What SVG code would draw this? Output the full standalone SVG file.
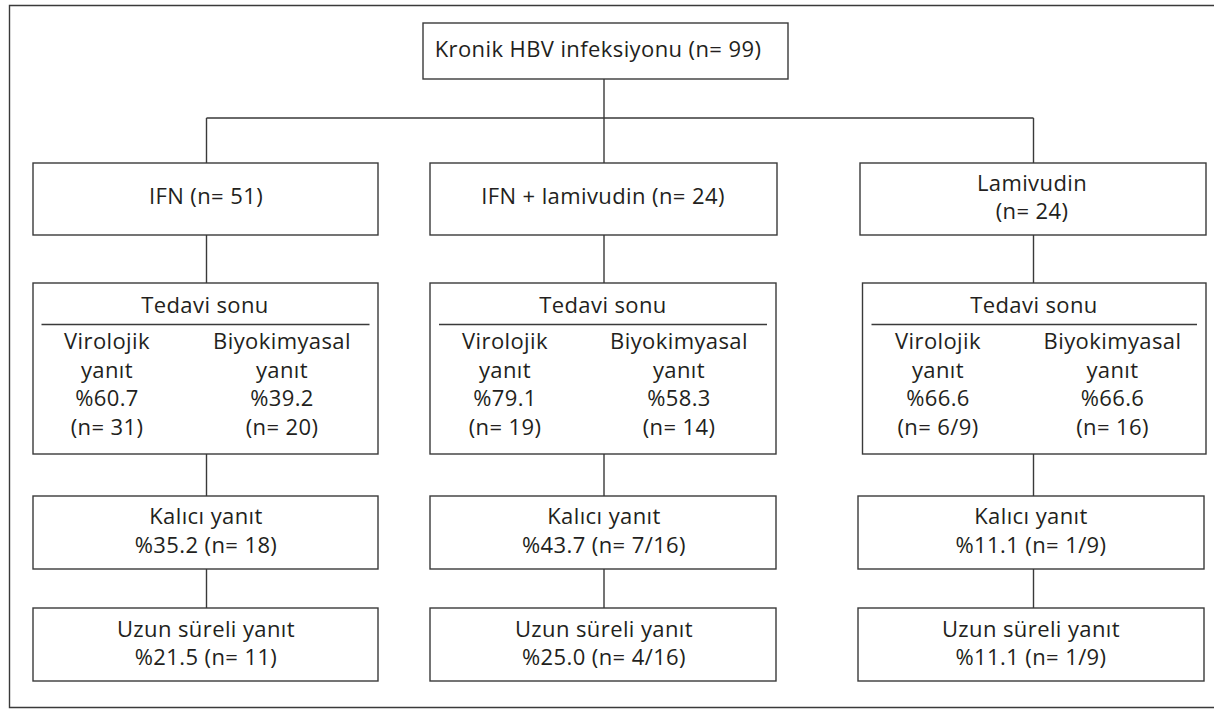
<svg xmlns="http://www.w3.org/2000/svg" width="1214" height="709" viewBox="0 0 1214 709">
<style>
.box{fill:#fff;stroke:#3a3a3a;stroke-width:1.4}
.ln{fill:none;stroke:#3a3a3a;stroke-width:1.4}
text{font-family:"Open Sans","Noto Sans",sans-serif;font-size:22px;letter-spacing:0.4px;fill:#231f20;text-anchor:middle}
</style>
<rect width="1214" height="709" fill="#fff"/>
<path class="ln" d="M1214,5.5 H9.5 V707.5 H1214"/>
<g id="connectors">
<path class="ln" d="M604,79 V118 M206.5,118 H1033.5 M206.5,118 V163 M604,118 V163 M1033.5,118 V163"/>
<path class="ln" d="M206.5,235 V283 M604,235 V283 M1033.5,235 V283"/>
<path class="ln" d="M206.5,454 V496 M604,454 V496 M1033.5,454 V496"/>
<path class="ln" d="M206.5,569 V608 M604,569 V608 M1033.5,569 V608"/>
</g>
<g id="root">
<rect class="box" x="423" y="23" width="365" height="56"/>
<text x="598" y="57">Kronik HBV infeksiyonu (n= 99)</text>
</g>
<g id="ifn">
<rect class="box" x="33" y="163" width="345" height="72"/>
<text x="206" y="204">IFN (n= 51)</text>
</g>
<g id="ifnlam">
<rect class="box" x="430" y="163" width="347" height="72"/>
<text x="603" y="204">IFN + lamivudin (n= 24)</text>
</g>
<g id="lam">
<rect class="box" x="860" y="163" width="346" height="72"/>
<text x="1032" y="191">Lamivudin</text>
<text x="1032" y="219">(n= 24)</text>
</g>
<g id="ifn-end">
<rect class="box" x="33" y="283" width="345" height="171"/>
<text x="205" y="312.5">Tedavi sonu</text>
<path class="ln" d="M41.5,324.5 H369.5"/>
<text x="107" y="349">Virolojik</text><text x="107" y="377.5">yanıt</text><text x="107" y="406">%60.7</text><text x="107" y="434.5">(n= 31)</text>
<text x="282" y="349">Biyokimyasal</text><text x="282" y="377.5">yanıt</text><text x="282" y="406">%39.2</text><text x="282" y="434.5">(n= 20)</text>
</g>
<g id="ifnlam-end">
<rect class="box" x="430" y="283" width="346" height="171"/>
<text x="603" y="312.5">Tedavi sonu</text>
<path class="ln" d="M439,324.5 H767"/>
<text x="505" y="349">Virolojik</text><text x="505" y="377.5">yanıt</text><text x="505" y="406">%79.1</text><text x="505" y="434.5">(n= 19)</text>
<text x="679" y="349">Biyokimyasal</text><text x="679" y="377.5">yanıt</text><text x="679" y="406">%58.3</text><text x="679" y="434.5">(n= 14)</text>
</g>
<g id="lam-end">
<rect class="box" x="862.5" y="283" width="343.5" height="171"/>
<text x="1034" y="312.5">Tedavi sonu</text>
<path class="ln" d="M871.5,324.5 H1197"/>
<text x="938" y="349">Virolojik</text><text x="938" y="377.5">yanıt</text><text x="938" y="406">%66.6</text><text x="938" y="434.5">(n= 6/9)</text>
<text x="1112.5" y="349">Biyokimyasal</text><text x="1112.5" y="377.5">yanıt</text><text x="1112.5" y="406">%66.6</text><text x="1112.5" y="434.5">(n= 16)</text>
</g>
<g id="ifn-kalici">
<rect class="box" x="33" y="496" width="345" height="73"/>
<text x="206" y="524">Kalıcı yanıt</text>
<text x="206" y="552.5">%35.2 (n= 18)</text>
</g>
<g id="ifnlam-kalici">
<rect class="box" x="430" y="496" width="346" height="73"/>
<text x="604" y="524">Kalıcı yanıt</text>
<text x="604" y="552.5">%43.7 (n= 7/16)</text>
</g>
<g id="lam-kalici">
<rect class="box" x="858" y="496" width="346" height="73"/>
<text x="1031" y="524">Kalıcı yanıt</text>
<text x="1031" y="552.5">%11.1 (n= 1/9)</text>
</g>
<g id="ifn-uzun">
<rect class="box" x="33" y="608" width="345" height="73"/>
<text x="206" y="636.5">Uzun süreli yanıt</text>
<text x="206" y="665">%21.5 (n= 11)</text>
</g>
<g id="ifnlam-uzun">
<rect class="box" x="430" y="608" width="346" height="73"/>
<text x="604" y="636.5">Uzun süreli yanıt</text>
<text x="604" y="665">%25.0 (n= 4/16)</text>
</g>
<g id="lam-uzun">
<rect class="box" x="858" y="608" width="346" height="73"/>
<text x="1031" y="636.5">Uzun süreli yanıt</text>
<text x="1031" y="665">%11.1 (n= 1/9)</text>
</g>
</svg>
